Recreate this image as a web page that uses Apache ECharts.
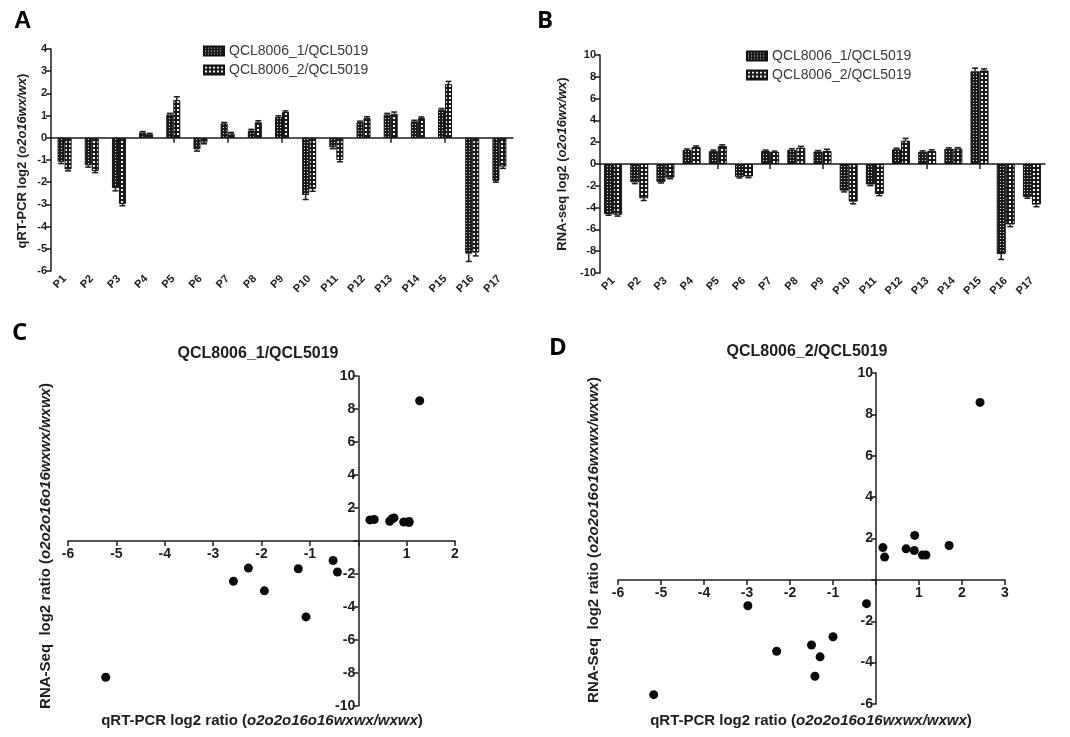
<!DOCTYPE html>
<html><head><meta charset="utf-8">
<script src="https://cdn.jsdelivr.net/npm/echarts@6/dist/echarts.min.js"></script>
<style>html,body{margin:0;padding:0;background:#fff}#c{width:1070px;height:737px}</style>
</head><body><div id="c"></div>
<script>
const categories = ['P1','P2','P3','P4','P5','P6','P7','P8','P9','P10','P11','P12','P13','P14','P15','P16','P17'];
const seriesNames = ['QCL8006_1/QCL5019','QCL8006_2/QCL5019'];
// qRT-PCR log2 ratios
const qpcr1 = [-1.08,-1.24,-2.27,0.24,1.05,-0.52,0.65,0.33,0.94,-2.58,-0.43,0.70,1.05,0.74,1.27,-5.22,-1.94];
const qpcr2 = [-1.42,-1.50,-2.98,0.16,1.70,-0.22,0.20,0.70,1.16,-2.31,-1.00,0.90,1.08,0.89,2.42,-5.17,-1.30];
// RNA-seq log2 ratios
const rna1 = [-4.60,-1.68,-1.64,1.28,1.18,-1.18,1.20,1.30,1.15,-2.44,-1.88,1.35,1.12,1.40,8.50,-8.26,-3.02];
const rna2 = [-4.66,-3.15,-1.25,1.56,1.66,-1.15,1.10,1.50,1.20,-3.45,-2.75,2.15,1.20,1.42,8.58,-5.55,-3.72];
// error bars (one-sided, drawn away from zero)
const errQ1 = [0.08,0.08,0.12,0.04,0.05,0.08,0.04,0.05,0.05,0.20,0.06,0.05,0.05,0.05,0.05,0.35,0.06];
const errQ2 = [0.07,0.07,0.08,0.04,0.15,0.05,0.04,0.07,0.05,0.10,0.08,0.05,0.08,0.05,0.12,0.15,0.08];
const errR1 = [0.10,0.12,0.10,0.10,0.10,0.10,0.08,0.10,0.08,0.12,0.10,0.10,0.08,0.08,0.30,0.50,0.12];
const errR2 = [0.12,0.20,0.10,0.10,0.10,0.10,0.08,0.12,0.15,0.20,0.15,0.20,0.10,0.08,0.15,0.20,0.20];
// axis ticks
const ticksA = {min:-6, max:4, interval:1};
const ticksB = {min:-10, max:10, interval:2};
const ticksCx = {min:-6, max:2, interval:1};
const ticksCy = {min:-10, max:10, interval:2};
const ticksDx = {min:-6, max:3, interval:1};
const ticksDy = {min:-6, max:10, interval:2};

function pattern(kind){
  const c = document.createElement('canvas');
  const g = c.getContext('2d');
  if(kind===1){
    c.width=3; c.height=3;
    g.fillStyle='#1a1a1a'; g.fillRect(0,0,3,3);
    g.fillStyle='#e0e0e0'; g.fillRect(1,1,1,1);
  } else {
    c.width=4; c.height=4;
    g.fillStyle='#1a1a1a'; g.fillRect(0,0,4,4);
    g.fillStyle='#f0f0f0'; g.fillRect(1,1,2,2);
  }
  return {image:c, repeat:'repeat'};
}
const pat1 = pattern(1), pat2 = pattern(2);

const FF = 'Liberation Sans, Arial, sans-serif';
const ink = '#1e1e1e';
const tickStyle = {show:true, length:5, lineStyle:{color:ink, width:1.5}};

const grids = [
  {left:51, top:49, width:462, height:222},
  {left:600, top:55, width:445, height:218},
  {left:68, top:376, width:387, height:330},
  {left:618, top:373, width:387, height:331}
];

function catAxes(gi, fs){
  return [
    {gridIndex:gi, type:'category', data:categories, position:'bottom',
     axisLine:{show:false, onZero:false}, axisTick:{show:false},
     axisLabel:{rotate:45, margin:6, color:ink, fontWeight:'bold', fontSize:fs, fontFamily:FF}},
    {gridIndex:gi, type:'category', data:categories, position:'bottom',
     axisLine:{show:true, onZero:true, lineStyle:{color:ink, width:1.5}},
     axisTick:{show:true, alignWithLabel:true, length:5, lineStyle:{color:ink, width:1.5}},
     axisLabel:{show:false}}
  ];
}
function valAxis(gi, t, fs){
  return {gridIndex:gi, type:'value', min:t.min, max:t.max, interval:t.interval,
    axisLine:{show:true, onZero:false, lineStyle:{color:ink, width:1.5}},
    axisTick:tickStyle, splitLine:{show:false},
    axisLabel:{color:ink, fontWeight:'bold', fontSize:fs, fontFamily:FF, margin:4}};
}
// crossing axes for scatter panels: place each axis at the other's zero via offset
function crossAxes(gi, tx, ty, fs){
  const g = grids[gi];
  const zeroX = g.left + g.width * (0 - tx.min) / (tx.max - tx.min);
  const zeroY = g.top + g.height * (ty.max - 0) / (ty.max - ty.min);
  const base = {color:ink, fontWeight:'bold', fontSize:fs, fontFamily:FF, formatter:v=>v===0?'':String(v)};
  return {
    x:{gridIndex:gi, type:'value', position:'bottom', offset:-(g.top + g.height - zeroY),
       min:tx.min, max:tx.max, interval:tx.interval,
       axisLine:{show:true, onZero:false, lineStyle:{color:ink, width:1.5}}, axisTick:tickStyle, splitLine:{show:false},
       axisLabel:Object.assign({margin:6}, base)},
    y:{gridIndex:gi, type:'value', position:'left', offset:-(zeroX - g.left),
       min:ty.min, max:ty.max, interval:ty.interval,
       axisLine:{show:true, onZero:false, lineStyle:{color:ink, width:1.5}}, axisTick:tickStyle, splitLine:{show:false},
       axisLabel:Object.assign({margin:3}, base)}
  };
}
const axC = crossAxes(2, ticksCx, ticksCy, 14);
const axD = crossAxes(3, ticksDx, ticksDy, 14);

function errSeries(xi, yi, vals, errs, side, barW){
  return {type:'custom', xAxisIndex:xi, yAxisIndex:yi, z:5,
    data: vals.map((v,i)=>[i, v, errs[i]]),
    encode:{x:0, y:1},
    renderItem:(params, api)=>{
      const i = api.value(0), v = api.value(1), e = api.value(2);
      const end = v >= 0 ? v + e : v - e;
      const p0 = api.coord([i, v]);
      const p1 = api.coord([i, end]);
      const x = p0[0] + side*barW/2;
      return {type:'group', children:[
        {type:'line', shape:{x1:x, y1:p0[1], x2:x, y2:p1[1]}, style:{stroke:ink, lineWidth:1.5}},
        {type:'line', shape:{x1:x-3, y1:p1[1], x2:x+3, y2:p1[1]}, style:{stroke:ink, lineWidth:1.5}}
      ]};
    }};
}

function barSeries(name, xi, yi, vals, pat, bw){
  return {name, type:'bar', xAxisIndex:xi, yAxisIndex:yi, data:vals, barWidth:bw, barGap:'0%',
    itemStyle:{color:pat, borderColor:'#111', borderWidth:1}, z:3};
}

const bwA = 7, bwB = 9;

function rotText(x, y, parts, fs, rot){
  const rich = {a:{fontSize:fs, fontWeight:'bold', fontFamily:FF, fill:ink},
                b:{fontSize:fs, fontWeight:'bold', fontStyle:'italic', fontFamily:FF, fill:ink}};
  const text = parts.map(p => `{${p[1]?'b':'a'}|${p[0]}}`).join('');
  return {type:'text', x, y, rotation:rot, z:10,
    style:{text, rich, align:'center', verticalAlign:'middle'}};
}
function letter(t, x, y, fam){
  return {type:'text', x, y, z:10, style:{text:t, fill:'#000', font:`bold 24px ${fam}`, align:'left', verticalAlign:'top'}};
}

const option = {
  animation:false,
  backgroundColor:'#fff',
  grid:grids,
  legend:[
    {left:198, top:39, orient:'vertical', itemWidth:20, itemHeight:9, itemGap:5, icon:'rect',
     data:seriesNames, textStyle:{fontSize:14, color:'#3a3a3a', fontFamily:FF}, selectedMode:false},
    {left:741, top:44, orient:'vertical', itemWidth:20, itemHeight:9, itemGap:5, icon:'rect',
     data:seriesNames, textStyle:{fontSize:14, color:'#3a3a3a', fontFamily:FF}, selectedMode:false}
  ],
  xAxis:[
    ...catAxes(0, 11),
    ...catAxes(1, 11),
    axC.x,
    axD.x
  ],
  yAxis:[
    valAxis(0, ticksA, 11),
    valAxis(1, ticksB, 11),
    axC.y,
    axD.y
  ],
  series:[
    barSeries(seriesNames[0], 0, 0, qpcr1, pat1, bwA),
    barSeries(seriesNames[1], 0, 0, qpcr2, pat2, bwA),
    errSeries(0, 0, qpcr1, errQ1, -1, bwA),
    errSeries(0, 0, qpcr2, errQ2, 1, bwA),
    barSeries(seriesNames[0], 2, 1, rna1, pat1, bwB),
    barSeries(seriesNames[1], 2, 1, rna2, pat2, bwB),
    errSeries(2, 1, rna1, errR1, -1, bwB),
    errSeries(2, 1, rna2, errR2, 1, bwB),
    {type:'scatter', xAxisIndex:4, yAxisIndex:2, symbolSize:9, itemStyle:{color:'#0a0a0a', opacity:1}, z:6,
     data: qpcr1.map((v,i)=>[v, rna1[i]])},
    {type:'scatter', xAxisIndex:5, yAxisIndex:3, symbolSize:9, itemStyle:{color:'#0a0a0a', opacity:1}, z:6,
     data: qpcr2.map((v,i)=>[v, rna2[i]])}
  ],
  graphic:[
    letter('A', 14, 9, FF),
    letter('B', 537, 9, 'Open Sans, sans-serif'),
    letter('C', 12, 321, 'Open Sans, sans-serif'),
    letter('D', 549, 336, 'Open Sans, sans-serif'),
    rotText(22, 161, [['qRT-PCR log2 ('],['o2o16wx/wx',1],[')']], 13, Math.PI/2),
    rotText(562, 164, [['RNA-seq log2 ('],['o2o16wx/wx',1],[')']], 13, Math.PI/2),
    {type:'text', x:258, y:354, z:10, style:{text:'QCL8006_1/QCL5019', font:`bold 16px ${FF}`, fill:ink, align:'center', verticalAlign:'middle'}},
    {type:'text', x:807, y:352, z:10, style:{text:'QCL8006_2/QCL5019', font:`bold 16px ${FF}`, fill:ink, align:'center', verticalAlign:'middle'}},
    rotText(46, 546, [['RNA-Seq  log2 ratio ('],['o2o2o16o16wxwx/wxwx',1],[')']], 15, Math.PI/2),
    rotText(262, 721, [['qRT-PCR log2 ratio ('],['o2o2o16o16wxwx/wxwx',1],[')']], 15, 0),
    rotText(594, 540, [['RNA-Seq  log2 ratio ('],['o2o2o16o16wxwx/wxwx',1],[')']], 15, Math.PI/2),
    rotText(811, 721, [['qRT-PCR log2 ratio ('],['o2o2o16o16wxwx/wxwx',1],[')']], 15, 0)
  ]
};
const chart = echarts.init(document.getElementById('c'), null, {renderer:'canvas'});
chart.setOption(option);
</script>
</body></html>
